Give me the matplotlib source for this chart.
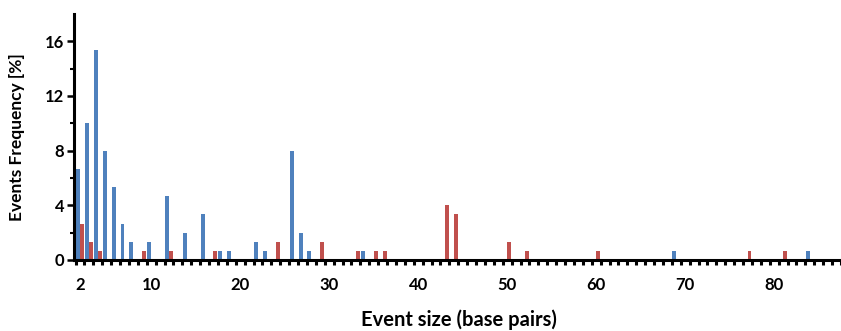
import numpy as np
import matplotlib.pyplot as plt

plt.rcParams['font.family'] = ['Lato', 'DejaVu Sans']
plt.rcParams['font.weight'] = 'bold'

# event sizes on the category axis (bp)
sizes = np.arange(2, 88)
x_labels = [2, 10, 20, 30, 40, 50, 60, 70, 80]

# blue series: sizes with non-zero frequency and their values (%)
blue_sizes = [2, 3, 4, 5, 6, 7, 8, 10, 12, 14, 16, 18, 19, 22, 23, 26, 27, 28, 34, 69, 84]
blue_freq = [6.67, 10, 15.33, 8, 5.33, 2.67, 1.33, 1.33, 4.67, 2, 3.33, 0.67, 0.67,
             1.33, 0.67, 8, 2, 0.67, 0.67, 0.67, 0.67]

# red series
red_sizes = [2, 3, 4, 9, 12, 17, 24, 29, 33, 35, 36, 43, 44, 50, 52, 60, 77, 81]
red_freq = [2.67, 1.33, 0.67, 0.67, 0.67, 0.67, 1.33, 1.33, 0.67, 0.67, 0.67,
            4, 3.33, 1.33, 0.67, 0.67, 0.67, 0.67]

blue = np.zeros(len(sizes))
blue[np.searchsorted(sizes, blue_sizes)] = blue_freq
red = np.zeros(len(sizes))
red[np.searchsorted(sizes, red_sizes)] = red_freq

fig = plt.figure(figsize=(8.41, 3.31), dpi=100)
ax = fig.add_axes([74.2 / 841, 71 / 331, 766.8 / 841, 246 / 331])

w = 0.44
ax.bar(sizes - w / 2, blue, width=w, color='#4F81BD')
ax.bar(sizes + w / 2, red, width=w, color='#C0504D')

ax.set_xlim(1.35, 87.5)
ax.set_ylim(0, 18)

for side in ['top', 'right']:
    ax.spines[side].set_visible(False)
for side in ['left', 'bottom']:
    ax.spines[side].set_linewidth(2.2)
    ax.spines[side].set_color('black')

# y axis
ax.set_yticks([0, 4, 8, 12, 16])
ax.set_yticks([2, 6, 10, 14], minor=True)
ax.tick_params(axis='y', which='major', direction='out', length=5, width=1.8,
               labelsize=12, pad=2)
ax.tick_params(axis='y', which='minor', direction='out', length=3, width=1.5)

# x axis: labels at selected sizes, ticks between every category
ax.set_xticks(x_labels)
ax.set_xticklabels([str(v) for v in x_labels])
ax.set_xticks(np.arange(1.5, 88, 1), minor=True)
ax.tick_params(axis='x', which='major', length=0, labelsize=12, pad=12)
ax.tick_params(axis='x', which='minor', direction='out', length=3.5, width=2.2)

ax.set_xlabel('Event size (base pairs)', fontsize=14.5, fontweight='bold')
ax.xaxis.set_label_coords(0.502, -0.2)
ax.set_ylabel('Events Frequency [%]', fontsize=12.5, fontweight='bold')
ax.yaxis.set_label_coords(-0.064, 0.5)

fig.savefig('out.png', dpi=100)
